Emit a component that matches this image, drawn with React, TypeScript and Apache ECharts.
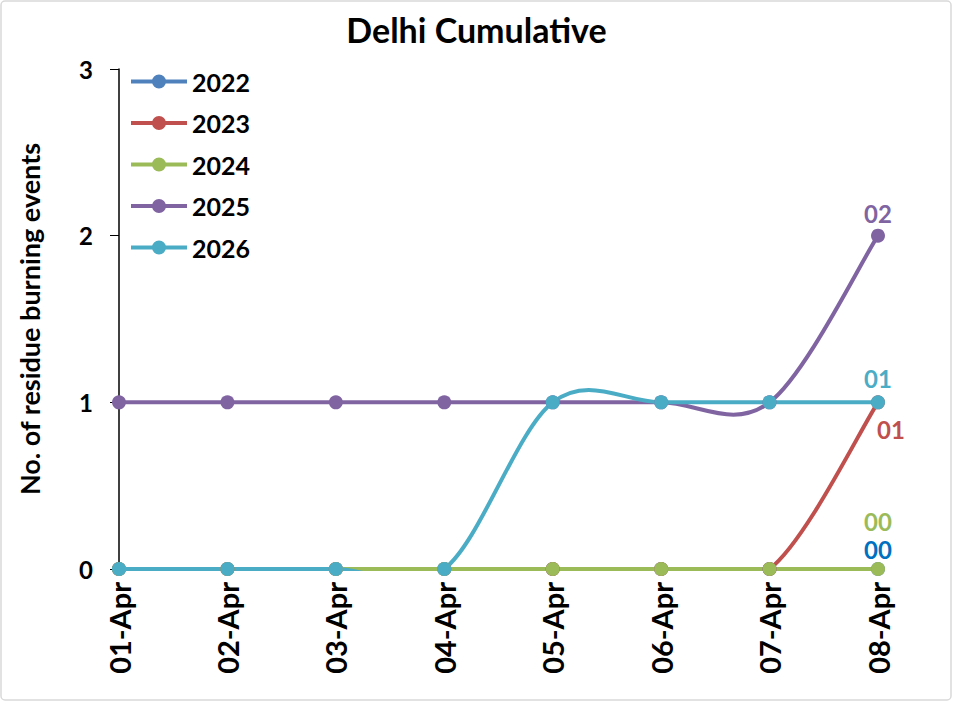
import React, { useEffect, useRef } from "react";
import * as echarts from "echarts";

const categories = ["01-Apr", "02-Apr", "03-Apr", "04-Apr", "05-Apr", "06-Apr", "07-Apr", "08-Apr"];
const yTicks = [0, 1, 2, 3];
const years = ["2022", "2023", "2024", "2025", "2026"];
const s2022 = [0, 0, 0, 0, 0, 0, 0, 0];
const s2023 = [0, 0, 0, 0, 0, 0, 0, 1];
const s2024 = [0, 0, 0, 0, 0, 0, 0, 0];
const s2025 = [1, 1, 1, 1, 1, 1, 1, 2];
const s2026 = [0, 0, 0, 0, 1, 1, 1, 1];

const FONT = "Lato, 'Open Sans', sans-serif";

// legend icon: thick line with a dot in the middle (56 x 14)
const LEGEND_ICON =
  "path://M0,5 L56,5 L56,9 L0,9 Z M21,7 A7,7 0 1,1 35,7 A7,7 0 1,1 21,7 Z";

function withEndLabel(values: number[], color: string, position: string, offset: number[]) {
  return values.map((v, i) =>
    i === values.length - 1
      ? {
          value: v,
          label: {
            show: true,
            position,
            offset,
            formatter: (p: any) => "0" + p.value,
            color,
            fontSize: 24,
            lineHeight: 20,
            fontWeight: "bold",
            fontFamily: FONT,
          },
        }
      : v
  );
}

// Excel-like smoothed line (Catmull-Rom style Bezier), clipped to the plot area
function smoothLine(name: string, values: number[], color: string) {
  const n = values.length;
  return {
    name,
    type: "custom",
    data: values.map((v, i) => [i, v]),
    encode: { x: 0, y: 1 },
    itemStyle: { color },
    lineStyle: { width: 4 },
    silent: true,
    clip: true,
    renderItem: (params: any, api: any) => {
      const i = params.dataIndex;
      if (i >= n - 1) return { type: "group", children: [] };
      const p = (k: number) => {
        const kk = Math.max(0, Math.min(n - 1, k));
        return api.coord([kk, values[kk]]);
      };
      const P0 = p(i - 1);
      const P1 = p(i);
      const P2 = p(i + 1);
      const P3 = p(i + 2);
      const t = 1 / 6;
      return {
        type: "bezierCurve",
        shape: {
          x1: P1[0],
          y1: P1[1],
          x2: P2[0],
          y2: P2[1],
          cpx1: P1[0] + (P2[0] - P0[0]) * t,
          cpy1: P1[1] + (P2[1] - P0[1]) * t,
          cpx2: P2[0] - (P3[0] - P1[0]) * t,
          cpy2: P2[1] - (P3[1] - P1[1]) * t,
        },
        style: { stroke: color, lineWidth: 4, fill: "none", lineCap: "round" },
      };
    },
  };
}

function markers(name: string, data: any[], color: string) {
  return {
    name,
    type: "line",
    data,
    symbol: "circle",
    symbolSize: 14,
    showSymbol: true,
    lineStyle: { width: 0, opacity: 0 },
    itemStyle: { color },
    label: { show: false },
  };
}

export default function App() {
  const ref = useRef<HTMLDivElement>(null);
  useEffect(() => {
    if (!ref.current) return;
    const chart = echarts.init(ref.current, undefined, { renderer: "svg" });
    const defs = [
      { name: years[0], values: s2022, color: "#4F81BD", lblColor: "#0070C0", pos: "top", off: [0, 2] },
      { name: years[1], values: s2023, color: "#C0504D", lblColor: "#C0504D", pos: "bottom", off: [13, 5] },
      { name: years[2], values: s2024, color: "#9BBB59", lblColor: "#9BBB59", pos: "top", off: [0, -26] },
      { name: years[3], values: s2025, color: "#8064A2", lblColor: "#8064A2", pos: "top", off: [0, 0] },
      { name: years[4], values: s2026, color: "#4BACC6", lblColor: "#4BACC6", pos: "top", off: [0, -2] },
    ];
    const series: any[] = [];
    defs.forEach((d) => {
      series.push(smoothLine(d.name, d.values, d.color));
      series.push(markers(d.name, withEndLabel(d.values, d.lblColor, d.pos, d.off), d.color));
    });
    chart.setOption({
      animation: false,
      backgroundColor: "#fff",
      title: {
        text: "Delhi Cumulative",
        left: "center",
        top: 7,
        textStyle: { fontSize: 34, fontWeight: "bold", color: "#000", fontFamily: FONT },
      },
      graphic: [
        {
          type: "rect",
          shape: { x: 1, y: 1, width: 950, height: 699, r: 4 },
          style: { fill: "none", stroke: "#D9D9D9", lineWidth: 1.5 },
          silent: true,
        },
      ],
      legend: {
        orient: "vertical",
        left: 126,
        top: 64,
        itemWidth: 56,
        itemHeight: 14,
        itemGap: 16.5,
        textStyle: { fontSize: 25, fontWeight: "bold", color: "#000", fontFamily: FONT },
        data: years.map((y) => ({ name: y, icon: LEGEND_ICON })),
      },
      grid: { left: 119, right: 75, top: 69, bottom: 133, containLabel: false },
      xAxis: {
        type: "category",
        data: categories,
        boundaryGap: false,
        axisLine: { lineStyle: { color: "#000", width: 1.5 } },
        axisTick: { show: true, alignWithLabel: true, length: 5, lineStyle: { color: "#000" } },
        axisLabel: {
          rotate: 90,
          fontSize: 29,
          fontWeight: "bold",
          color: "#000",
          fontFamily: FONT,
          margin: 13,
        },
        splitLine: { show: false },
      },
      yAxis: {
        type: "value",
        min: yTicks[0],
        max: yTicks[yTicks.length - 1],
        interval: 1,
        name: "No. of residue burning events",
        nameLocation: "middle",
        nameGap: 76,
        nameTextStyle: { fontSize: 27, fontWeight: "bold", color: "#000", fontFamily: FONT },
        axisLine: { show: true, lineStyle: { color: "#000", width: 1.5 } },
        axisTick: { show: true, length: 9, lineStyle: { color: "#000" } },
        axisLabel: { fontSize: 24, fontWeight: "bold", color: "#000", fontFamily: FONT, margin: 26 },
        splitLine: { show: false },
      },
      series,
    });
    return () => chart.dispose();
  }, []);
  return (
    <div
      ref={ref}
      style={{ position: "fixed", left: 0, top: 0, width: 953, height: 702 }}
    />
  );
}
